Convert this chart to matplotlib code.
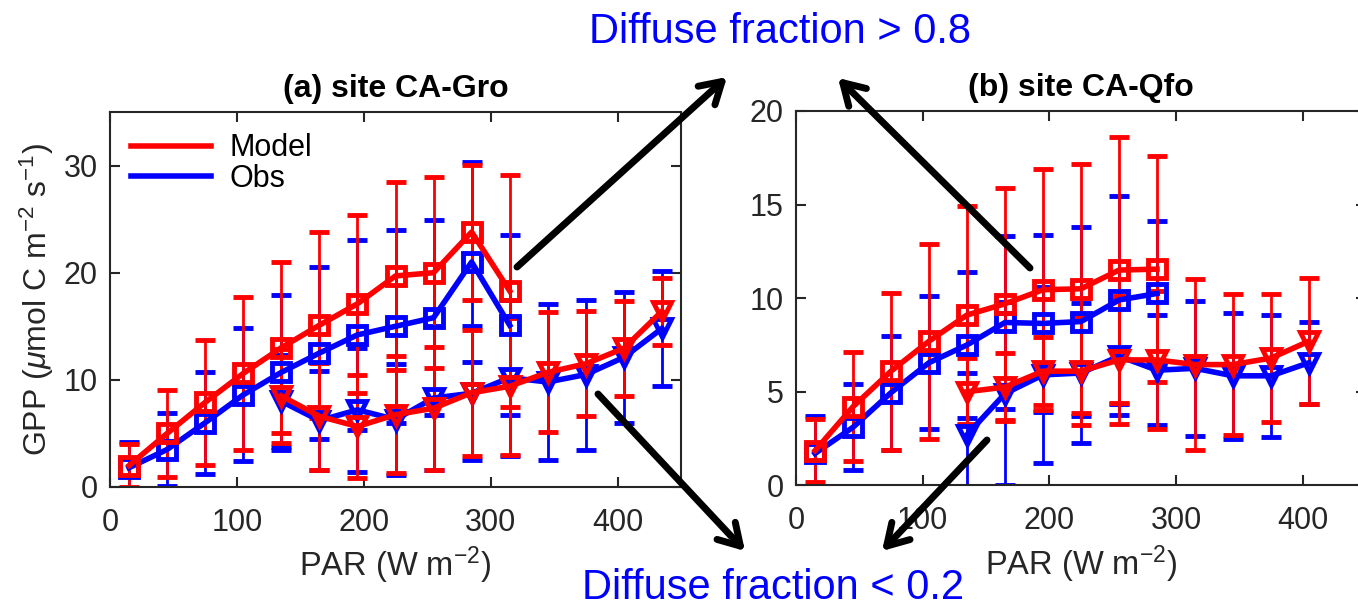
import numpy as np
import matplotlib
matplotlib.use('Agg')
import matplotlib.pyplot as plt
from matplotlib.lines import Line2D

plt.rcParams['font.family'] = ['Liberation Sans', 'DejaVu Sans']
plt.rcParams['mathtext.fontset'] = 'custom'
plt.rcParams['mathtext.rm'] = 'Liberation Sans'
plt.rcParams['mathtext.it'] = 'Liberation Sans:italic'

# ------------------------------
# data (PAR bins, GPP mean and std)
# ------------------------------
# (a) site CA-Gro
a_par_high = [15, 45, 75, 105, 135, 165, 195, 225, 255, 285, 315]
a_model_high = [2.0, 5.0, 7.9, 10.6, 13.0, 15.1, 17.1, 19.7, 20.0, 23.8, 18.3]
a_model_high_err = [2.0, 4.1, 5.8, 7.1, 8.0, 8.7, 8.3, 8.8, 8.9, 6.3, 10.8]
a_obs_high = [1.8, 3.5, 6.0, 8.6, 10.7, 12.5, 14.2, 15.0, 15.8, 21.0, 15.1]
a_obs_high_err = [2.4, 3.4, 4.75, 6.2, 7.2, 8.0, 8.9, 9.0, 9.1, 9.3, 8.4]

a_par_low = [135, 165, 195, 225, 255, 285, 315, 345, 375, 405, 435]
a_model_low = [8.5, 6.6, 5.65, 6.75, 7.35, 8.8, 9.4, 10.7, 11.5, 12.95, 16.4]
a_model_low_err = [4.4, 5.0, 4.85, 5.45, 5.75, 5.9, 6.4, 5.6, 4.9, 4.45, 3.15]
a_obs_low = [8.0, 6.2, 7.2, 6.3, 8.3, 8.75, 10.2, 9.8, 10.5, 12.1, 14.8]
a_obs_low_err = [4.3, 4.6, 5.8, 5.2, 6.7, 6.25, 7.3, 7.3, 7.0, 6.1, 5.4]

# (b) site CA-Qfo
b_par_high = [15, 45, 75, 105, 135, 165, 195, 225, 255, 285]
b_model_high = [1.85, 4.2, 6.1, 7.7, 9.1, 9.7, 10.45, 10.5, 11.5, 11.55]
b_model_high_err = [1.67, 2.9, 4.2, 5.2, 5.8, 6.2, 6.45, 6.65, 7.1, 6.05]
b_obs_high = [1.7, 3.1, 4.95, 6.55, 7.5, 8.7, 8.65, 8.75, 9.9, 10.25]
b_obs_high_err = [2.0, 2.3, 3.05, 3.55, 3.9, 4.6, 4.75, 5.05, 5.55, 3.85]

b_par_low = [135, 165, 195, 225, 255, 285, 315, 345, 375, 405]
b_model_low = [5.0, 5.25, 6.1, 6.1, 6.7, 6.7, 6.45, 6.45, 6.8, 7.7]
b_model_low_err = [1.8, 1.8, 1.8, 2.9, 3.4, 3.7, 4.55, 3.75, 3.4, 3.35]
b_obs_low = [2.7, 4.9, 5.9, 6.0, 6.9, 6.15, 6.25, 5.85, 5.85, 6.55]
b_obs_low_err = [3.3, 4.9, 4.7, 3.75, 3.15, 2.95, 3.6, 3.35, 3.25, 2.2]

panels = [
    ('(a) site CA-Gro', [0, 10, 20, 30], 35,
     (a_par_high, a_model_high, a_model_high_err, a_obs_high, a_obs_high_err),
     (a_par_low, a_model_low, a_model_low_err, a_obs_low, a_obs_low_err)),
    ('(b) site CA-Qfo', [0, 5, 10, 15, 20], 20,
     (b_par_high, b_model_high, b_model_high_err, b_obs_high, b_obs_high_err),
     (b_par_low, b_model_low, b_model_low_err, b_obs_low, b_obs_low_err)),
]

W, H = 1358, 607
fig = plt.figure(figsize=(W / 100, H / 100), dpi=100)
ax_boxes = [
    [110 / W, 1 - 487 / H, 571 / W, 375 / H],
    [796 / W, 1 - 485.3 / H, 570 / W, 374.3 / H],
]

axis_col = '#262626'
style = dict(lw=4, ms=13, mew=3.5, mfc='none', capsize=7.5,
             elinewidth=2, capthick=2.2)

for box, (title, yticks, ymax, high, low) in zip(ax_boxes, panels):
    ax = fig.add_axes(box)
    # obs first, model on top
    for grp, mk in [(high, 's'), (low, 'v')]:
        x, m, me, o, oe = grp
        ax.errorbar(x, o, yerr=oe, color='blue', marker=mk, **style)
    for grp, mk in [(high, 's'), (low, 'v')]:
        x, m, me, o, oe = grp
        ax.errorbar(x, m, yerr=me, color='red', marker=mk, **style)

    ax.set_xlim(0, 450)
    ax.set_ylim(0, ymax)
    ax.set_xticks([0, 100, 200, 300, 400])
    ax.set_yticks(yticks)
    ax.tick_params(direction='in', top=True, right=True, length=7, width=1.5,
                   labelsize=22, colors=axis_col)
    ax.tick_params(axis='x', pad=15)
    ax.tick_params(axis='y', pad=9)
    for s in ax.spines.values():
        s.set_linewidth(1.5)
        s.set_color(axis_col)
    ax.set_xlabel('PAR (W m$^{-2}$)', fontsize=23.5, color=axis_col, labelpad=5)
    ax.set_title(title, fontsize=23, fontweight='bold', pad=11)
    if title.startswith('(a)'):
        ax.set_ylabel(r'GPP ($\mu$mol C m$^{-2}$ s$^{-1}$)', fontsize=23,
                      color=axis_col, labelpad=5)
        handles = [Line2D([], [], color='red', lw=4),
                   Line2D([], [], color='blue', lw=4)]
        ax.legend(handles, ['Model', 'Obs'], loc='upper left', frameon=False,
                  fontsize=22, handlelength=2.6, labelspacing=0.02,
                  borderaxespad=0.3, handletextpad=0.6)

# arrows and labels (figure pixel coords)
arrows = [((517, 267), (727, 77)), ((598, 394), (745, 551)),
          ((1030, 268), (838, 78)), ((987, 440), (882, 551))]
for (x0, y0), (x1, y1) in arrows:
    fig.add_artist(matplotlib.patches.FancyArrowPatch(
        (x0 / W, 1 - y0 / H), (x1 / W, 1 - y1 / H), transform=fig.transFigure,
        arrowstyle='->,head_length=15,head_width=9', color='black', lw=5,
        mutation_scale=1, shrinkA=0, shrinkB=0))

fig.text(780 / W, 1 - 32 / H, 'Diffuse fraction > 0.8', color='blue',
         fontsize=30, ha='center', va='center')
fig.text(773 / W, 1 - 588 / H, 'Diffuse fraction < 0.2', color='blue',
         fontsize=30, ha='center', va='center')

fig.savefig('out.png', dpi=100)
